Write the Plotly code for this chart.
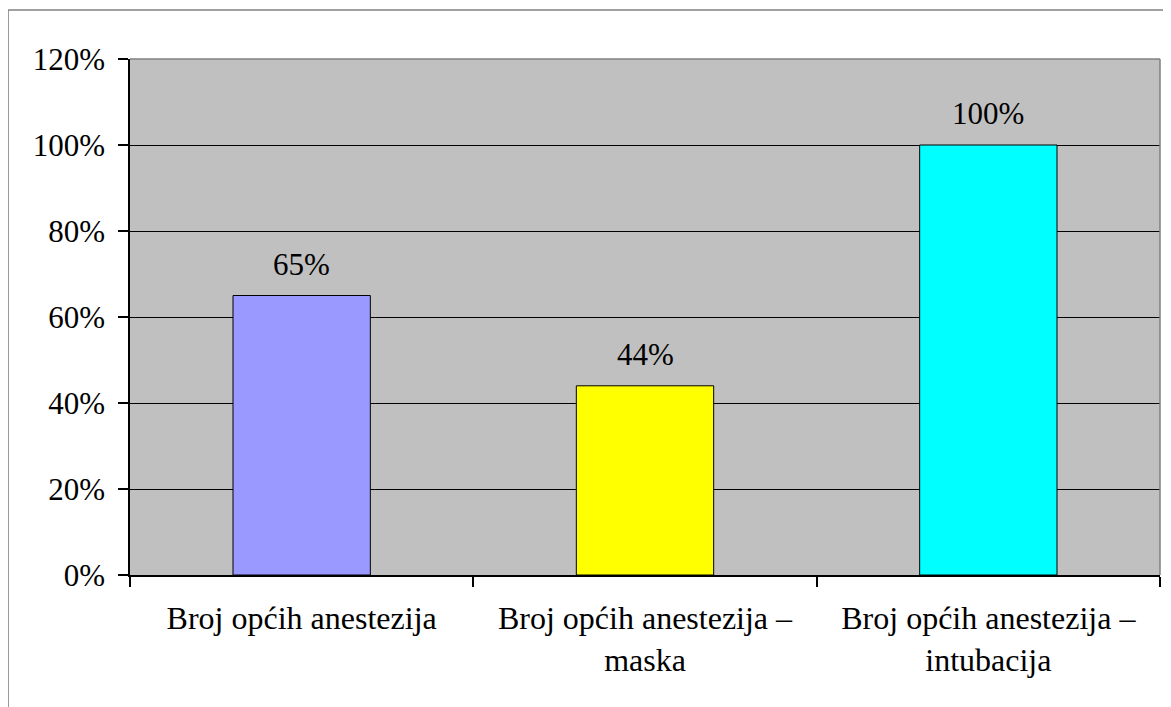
import plotly.graph_objects as go

categories = ["Broj općih anestezija", "Broj općih anestezija –<br>maska", "Broj općih anestezija –<br>intubacija"]
values = [65, 44, 100]
labels = ["65%", "44%", "100%"]
colors = ["#9999FF", "#FFFF00", "#00FFFF"]
y_ticks = [0, 20, 40, 60, 80, 100, 120]
y_tick_text = ["0%", "20%", "40%", "60%", "80%", "100%", "120%"]

FONT = "Liberation Serif, Times New Roman, serif"
FS = 32

fig = go.Figure()
fig.add_trace(go.Bar(
    x=categories, y=values,
    marker=dict(color=colors, line=dict(color="#000000", width=1)),
    width=0.4,
    hoverinfo="skip",
))

for c, v, t in zip(categories, values, labels):
    fig.add_annotation(x=c, y=v, text=t, showarrow=False, yanchor="bottom",
                       yshift=12, font=dict(family=FONT, size=FS - 1, color="#000000"))

# plot area top / right border (gray)
fig.add_shape(type="line", xref="paper", yref="paper", x0=0, x1=1, y0=1, y1=1,
              line=dict(color="#808080", width=1.5))
fig.add_shape(type="line", xref="paper", yref="paper", x0=1, x1=1, y0=0, y1=1,
              line=dict(color="#808080", width=1.5))
# outer chart border (partially visible)
fig.add_shape(type="line", xref="paper", yref="paper", x0=-0.1184, x1=-0.1184, y0=-0.4, y1=1.095,
              line=dict(color="#808080", width=1.5))
fig.add_shape(type="line", xref="paper", yref="paper", x0=-0.1184, x1=1.1, y0=1.095, y1=1.095,
              line=dict(color="#808080", width=1.5))

fig.update_layout(
    width=1163, height=699,
    margin=dict(l=122, r=11, t=51, b=132),
    paper_bgcolor="#FFFFFF",
    plot_bgcolor="#C0C0C0",
    showlegend=False,
    font=dict(family=FONT, size=FS, color="#000000"),
    bargap=0.6,
)
fig.update_xaxes(
    type="category",
    showline=True, linecolor="#000000", linewidth=1.5,
    ticks="outside", ticklen=10, tickcolor="#000000", tickwidth=1.5,
    tickson="boundaries",
    showgrid=False,
    ticklabelstandoff=14,
    tickfont=dict(family=FONT, size=FS, color="#000000"),
)
fig.update_yaxes(
    range=[0, 120],
    tickvals=y_ticks, ticktext=y_tick_text,
    showline=True, linecolor="#000000", linewidth=1.5,
    ticks="outside", ticklen=10, tickcolor="#000000", tickwidth=1.5,
    showgrid=True, gridcolor="#000000", gridwidth=1,
    zeroline=False,
    ticklabelstandoff=7,
    tickfont=dict(family=FONT, size=FS - 1, color="#000000"),
)

fig.write_html("out.html")
